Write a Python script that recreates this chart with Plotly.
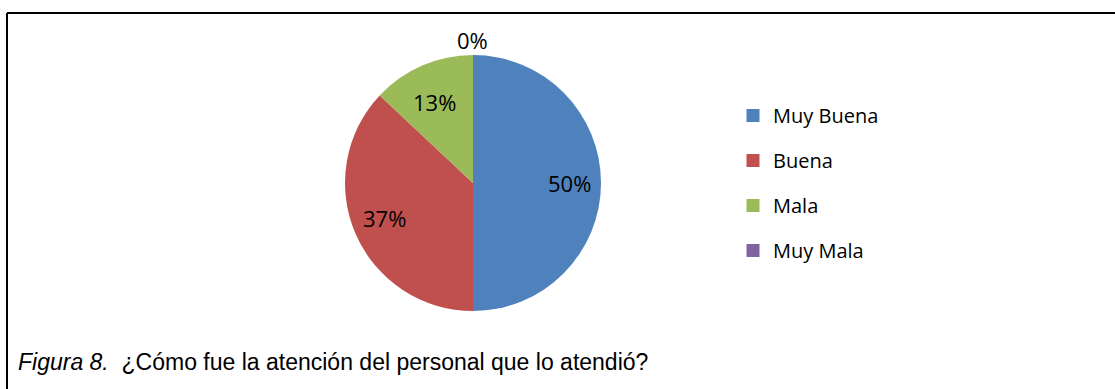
import math
import plotly.graph_objects as go

# Survey answers and their share of responses (%)
categorias = ["Muy Buena", "Buena", "Mala", "Muy Mala"]
porcentajes = [50, 37, 13, 0]
colores = ["#4F81BD", "#C0504D", "#9BBB59", "#8064A2"]
titulo = "<i>Figura 8.</i>  ¿Cómo fue la atención del personal que lo atendió?"

W, H = 1115, 389
cx, cy, r = 473, 183, 128  # pie centre / radius in pixels

fig = go.Figure()

fig.add_trace(go.Pie(
    labels=categorias,
    values=porcentajes,
    marker=dict(colors=colores, line=dict(width=0)),
    sort=False,
    direction="clockwise",
    rotation=0,
    textinfo="none",
    showlegend=False,
    hoverinfo="label+percent",
    domain=dict(x=[(cx - r) / W, (cx + r) / W],
                y=[(H - cy - r) / H, (H - cy + r) / H]),
))

# Percentage labels at each slice's mid-angle (clockwise from 12 o'clock)
total = sum(porcentajes)
acumulado = 0.0
for v in porcentajes:
    frac = v / total
    theta = 2 * math.pi * (acumulado + frac / 2)
    acumulado += frac
    k = 0.72 if v > 0 else 1.16  # empty slices get their label outside
    px = cx + k * 1.05 * r * math.sin(theta)
    py = cy - k * 0.96 * r * math.cos(theta)
    fig.add_annotation(
        text=f"{round(frac * 100)}%", xref="paper", yref="paper",
        x=px / W, y=(H - py) / H, xanchor="center", yanchor="middle",
        showarrow=False,
        font=dict(family="Open Sans", size=22, color="#000000"),
    )

# Legend entries, one group per category so they can be spaced apart
for nombre, color in zip(categorias, colores):
    fig.add_trace(go.Scatter(
        x=[None], y=[None], mode="markers", name=nombre,
        legendgroup=nombre,
        marker=dict(symbol="square", size=13, color=color),
    ))

# Frame lines along the top and left edge
fig.add_shape(type="line", xref="paper", yref="paper",
              x0=7 / W, x1=1.0, y0=(H - 13) / H, y1=(H - 13) / H,
              line=dict(color="black", width=2))
fig.add_shape(type="line", xref="paper", yref="paper",
              x0=7 / W, x1=7 / W, y0=0, y1=(H - 13) / H,
              line=dict(color="black", width=2))

fig.add_annotation(
    text=titulo, xref="paper", yref="paper",
    x=16 / W, y=(H - 362) / H, xanchor="left", yanchor="middle",
    showarrow=False,
    font=dict(family="Liberation Sans", size=23, color="#000000"),
)

fig.update_layout(
    width=W, height=H,
    margin=dict(l=0, r=0, t=0, b=0),
    paper_bgcolor="white", plot_bgcolor="white",
    xaxis=dict(visible=False), yaxis=dict(visible=False),
    legend=dict(
        x=733 / W, y=(H - 96) / H, xanchor="left", yanchor="top",
        traceorder="grouped", tracegroupgap=16,
        font=dict(family="Open Sans", size=20, color="#000000"),
        bgcolor="rgba(0,0,0,0)",
    ),
)

fig.write_html("out.html")
